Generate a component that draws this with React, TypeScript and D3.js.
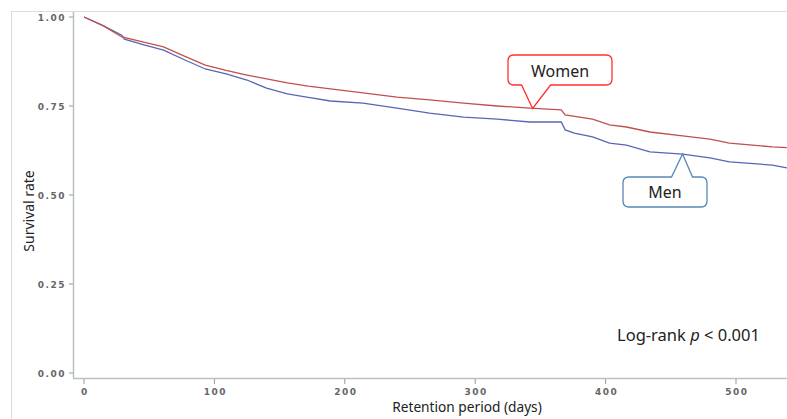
import * as d3 from 'd3'
import React from 'react'

// Kaplan-Meier survival estimates
const womenDays = [0, 15, 29, 45, 61, 77, 93, 109, 125, 140, 156, 172, 189, 214, 240, 265, 291, 317, 342, 366, 369, 390, 403, 416, 434, 459, 480, 495, 528, 539]
const womenSurv = [1.0, 0.975, 0.944, 0.93, 0.916, 0.89, 0.865, 0.85, 0.837, 0.826, 0.815, 0.806, 0.798, 0.787, 0.775, 0.767, 0.758, 0.75, 0.744, 0.739, 0.725, 0.713, 0.697, 0.691, 0.677, 0.666, 0.657, 0.646, 0.635, 0.633]
const menDays = [0, 15, 29, 31, 46, 61, 77, 93, 109, 125, 140, 156, 172, 189, 214, 240, 265, 291, 317, 342, 366, 369, 376, 390, 403, 416, 434, 459, 480, 495, 528, 539]
const menSurv = [1.0, 0.975, 0.949, 0.938, 0.922, 0.907, 0.88, 0.854, 0.84, 0.823, 0.80, 0.784, 0.774, 0.764, 0.758, 0.744, 0.73, 0.719, 0.713, 0.705, 0.705, 0.683, 0.674, 0.663, 0.646, 0.64, 0.621, 0.615, 0.604, 0.593, 0.584, 0.576]
const xTicks = [0, 100, 200, 300, 400, 500]
const yTicks = [0, 0.25, 0.5, 0.75, 1.0]

const W = 787, H = 419
const tickFont = '"DejaVu Sans", sans-serif'
const textFont = '"Noto Sans", "Open Sans", sans-serif'

// rounded box with a pointer on the top or bottom edge
function calloutPath(x0: number, y0: number, x1: number, y1: number, r: number, bl: number, br: number, tx: number, ty: number, side: string) {
    let p = `M${x0 + r},${y0}`
    if (side === 'top') p += `L${bl},${y0}L${tx},${ty}L${br},${y0}`
    p += `L${x1 - r},${y0}Q${x1},${y0} ${x1},${y0 + r}L${x1},${y1 - r}Q${x1},${y1} ${x1 - r},${y1}`
    if (side === 'bottom') p += `L${br},${y1}L${tx},${ty}L${bl},${y1}`
    p += `L${x0 + r},${y1}Q${x0},${y1} ${x0},${y1 - r}L${x0},${y0 + r}Q${x0},${y0} ${x0 + r},${y0}Z`
    return p
}

export default function App() {
    const x = d3.scaleLinear().domain([0, 500]).range([84, 736])
    const y = d3.scaleLinear().domain([0, 1]).range([373, 17])

    const line = d3.line<[number, number]>()
        .x(d => x(d[0]))
        .y(d => y(d[1]))
        .curve(d3.curveLinear)

    const women = womenDays.map((d, i) => [d, womenSurv[i]] as [number, number])
    const men = menDays.map((d, i) => [d, menSurv[i]] as [number, number])

    // callout tips sit on the curves
    const wTipX = x(344), wTipY = y(0.743)
    const mTipX = x(459), mTipY = y(0.615)

    return (
        <svg width={W} height={H} style={{ position: 'absolute', left: 0, top: 0, background: '#fff' }}>
            <defs>
                <clipPath id="plot">
                    <rect x={73} y={11} width={W - 73} height={367 - 11} />
                </clipPath>
            </defs>
            {/* outer frame */}
            <line x1={11} y1={11.5} x2={W} y2={11.5} stroke="#dcdcdc" />
            <line x1={11.5} y1={11} x2={11.5} y2={H} stroke="#dcdcdc" />

            {/* axes */}
            <line x1={73.5} y1={12} x2={73.5} y2={378} stroke="#b9c0c6" strokeWidth={1.5} />
            <line x1={73} y1={378.5} x2={W} y2={378.5} stroke="#b9c0c6" strokeWidth={1.5} />
            {yTicks.map(t => (
                <g key={t}>
                    <line x1={69} x2={73} y1={y(t)} y2={y(t)} stroke="#999" />
                    <text x={66} y={y(t) + 3.5} textAnchor="end" fontFamily={tickFont} fontSize={9} fontWeight="bold" letterSpacing={1.5} fill="#666">{t.toFixed(2)}</text>
                </g>
            ))}
            {xTicks.map(t => (
                <g key={t}>
                    <line x1={x(t)} x2={x(t)} y1={379} y2={384} stroke="#999" />
                    <text x={x(t) + 1} y={395} textAnchor="middle" fontFamily={tickFont} fontSize={9} fontWeight="bold" letterSpacing={1.5} fill="#666">{t}</text>
                </g>
            ))}

            {/* axis titles */}
            <text transform="translate(34,211) rotate(-90)" textAnchor="middle" fontFamily={textFont} fontSize={14} fill="#222">Survival rate</text>
            <text x={467} y={412} textAnchor="middle" fontFamily={textFont} fontSize={13.7} fill="#222">Retention period (days)</text>

            {/* curves */}
            <g clipPath="url(#plot)">
                <path d={line(men) ?? ''} fill="none" stroke="#5865b3" strokeWidth={1.3} />
                <path d={line(women) ?? ''} fill="none" stroke="#c0504d" strokeWidth={1.3} />
            </g>

            {/* callouts */}
            <path d={calloutPath(508, 55, 612, 85, 6, wTipX - 11, wTipX + 18, wTipX, wTipY, 'bottom')} fill="#fff" stroke="#ff3030" strokeWidth={1.3} />
            <text x={560} y={77} textAnchor="middle" fontFamily={textFont} fontSize={16} fill="#222">Women</text>
            <path d={calloutPath(623, 177, 707, 207, 6, mTipX - 11, mTipX + 10, mTipX, mTipY, 'top')} fill="#fff" stroke="#5a86b4" strokeWidth={1.3} />
            <text x={665} y={198} textAnchor="middle" fontFamily={textFont} fontSize={16} fill="#222">Men</text>

            <text x={617} y={341} fontFamily={textFont} fontSize={16.5} fill="#222">
                Log-rank <tspan fontStyle="italic">p</tspan> &lt; 0.001
            </text>
        </svg>
    )
}
